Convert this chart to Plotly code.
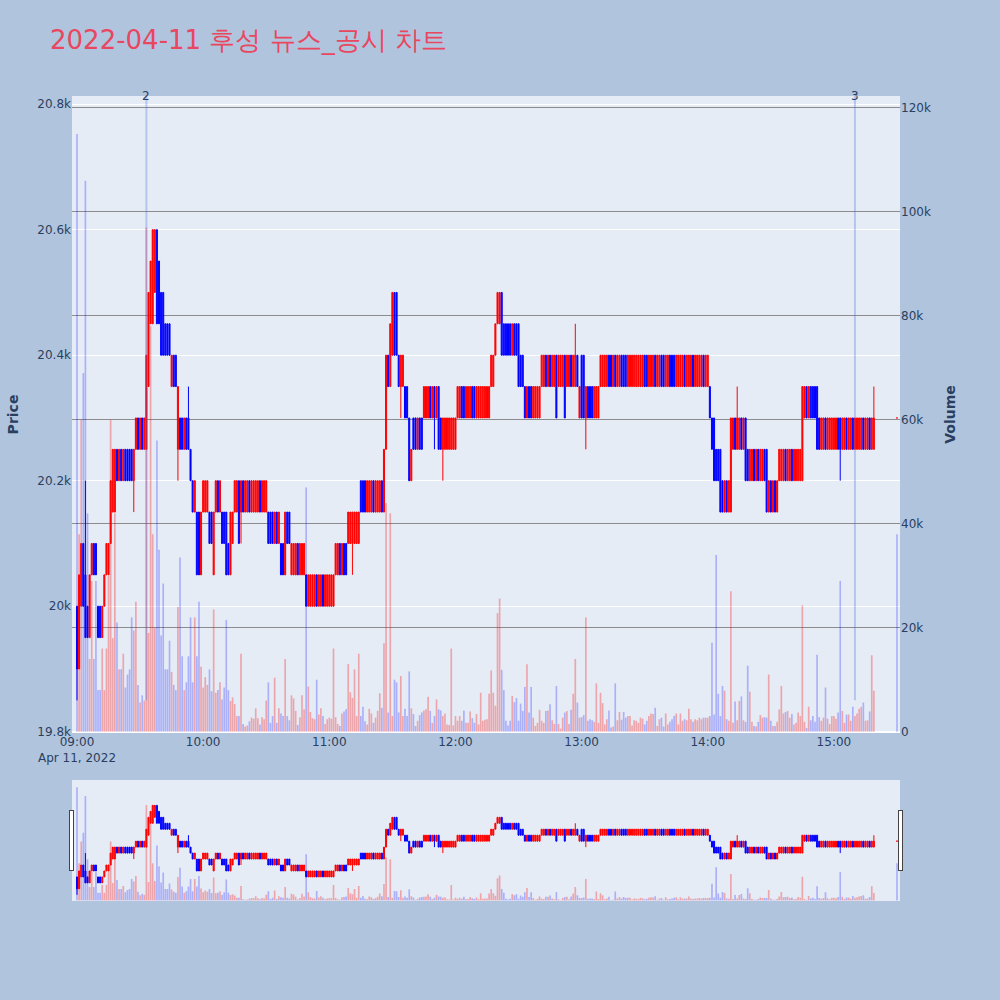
import pandas as pd
import plotly.graph_objects as go
from plotly.subplots import make_subplots

chart_title = "2022-04-11 후성 뉴스_공시 차트"

# minute timestamps: 09:00-15:19 continuous session, then 15:30 closing auction
times = list(pd.date_range("2022-04-11 09:00", "2022-04-11 15:19", freq="min")) + [pd.Timestamp("2022-04-11 15:30")]

opens = [
    20000, 19900, 20000, 20100, 20050, 20000, 19950, 20050, 20100, 20100,
    20000, 20000, 19950, 20000, 20050, 20050, 20100, 20150, 20150, 20250,
    20200, 20250, 20200, 20250, 20250, 20250, 20250, 20200, 20250, 20300,
    20250, 20300, 20250, 20250, 20350, 20450, 20450, 20500, 20600, 20550,
    20500, 20500, 20450, 20450, 20450, 20350, 20400, 20400, 20250, 20300,
    20300, 20250, 20300, 20300, 20250, 20200, 20150, 20150, 20150, 20050,
    20150, 20150, 20150, 20150, 20150, 20050, 20150, 20200, 20150, 20150,
    20150, 20150, 20100, 20050, 20100, 20150, 20150, 20200, 20150, 20200,
    20150, 20150, 20200, 20150, 20150, 20150, 20150, 20200, 20150, 20150,
    20150, 20150, 20150, 20150, 20100, 20150, 20100, 20100, 20100, 20050,
    20150, 20150, 20050, 20050, 20050, 20100, 20050, 20050, 20050, 20050,
    20000, 20000, 20000, 20000, 20050, 20000, 20000, 20050, 20000, 20000,
    20000, 20000, 20000, 20050, 20050, 20100, 20050, 20100, 20100, 20100,
    20100, 20100, 20100, 20100, 20100, 20200, 20200, 20200, 20150, 20150,
    20150, 20200, 20150, 20150, 20150, 20200, 20150, 20250, 20400, 20350,
    20400, 20500, 20500, 20400, 20350, 20350, 20350, 20350, 20300, 20200,
    20300, 20300, 20250, 20300, 20300, 20300, 20300, 20300, 20350, 20300,
    20350, 20300, 20350, 20300, 20250, 20250, 20250, 20250, 20250, 20250,
    20250, 20300, 20300, 20350, 20350, 20300, 20300, 20300, 20350, 20350,
    20300, 20300, 20300, 20300, 20300, 20300, 20300, 20350, 20350, 20400,
    20450, 20450, 20500, 20450, 20450, 20450, 20450, 20400, 20450, 20450,
    20450, 20400, 20400, 20350, 20300, 20350, 20350, 20300, 20300, 20300,
    20300, 20350, 20350, 20400, 20350, 20400, 20350, 20350, 20400, 20350,
    20350, 20350, 20400, 20350, 20350, 20400, 20350, 20350, 20400, 20300,
    20400, 20400, 20300, 20350, 20350, 20350, 20300, 20300, 20300, 20350,
    20350, 20350, 20350, 20400, 20400, 20350, 20400, 20350, 20350, 20400,
    20400, 20400, 20350, 20350, 20350, 20350, 20350, 20350, 20350, 20350,
    20400, 20400, 20350, 20350, 20350, 20400, 20350, 20350, 20400, 20400,
    20350, 20350, 20400, 20400, 20400, 20350, 20350, 20350, 20350, 20400,
    20350, 20350, 20350, 20400, 20350, 20350, 20350, 20350, 20400, 20350,
    20350, 20350, 20300, 20300, 20250, 20250, 20250, 20200, 20150, 20200,
    20150, 20150, 20250, 20300, 20250, 20250, 20300, 20250, 20300, 20250,
    20200, 20200, 20250, 20200, 20250, 20200, 20200, 20250, 20250, 20150,
    20200, 20150, 20200, 20150, 20200, 20200, 20200, 20250, 20200, 20200,
    20250, 20200, 20200, 20200, 20200, 20200, 20300, 20350, 20300, 20350,
    20350, 20350, 20350, 20300, 20250, 20250, 20300, 20250, 20250, 20250,
    20250, 20250, 20300, 20300, 20250, 20250, 20300, 20250, 20250, 20300,
    20250, 20250, 20250, 20250, 20300, 20250, 20250, 20300, 20250, 20250,
    20300,
]

closes = [
    19900, 20050, 20100, 20000, 19950, 19950, 20050, 20100, 20050, 20050,
    19950, 19950, 20000, 20050, 20100, 20100, 20200, 20250, 20250, 20200,
    20250, 20200, 20250, 20200, 20200, 20200, 20200, 20250, 20300, 20250,
    20300, 20250, 20300, 20400, 20500, 20550, 20600, 20600, 20450, 20450,
    20400, 20400, 20400, 20400, 20400, 20400, 20350, 20350, 20350, 20250,
    20250, 20300, 20250, 20250, 20200, 20150, 20200, 20050, 20050, 20150,
    20200, 20200, 20200, 20100, 20100, 20150, 20200, 20150, 20200, 20100,
    20100, 20050, 20050, 20150, 20150, 20200, 20200, 20100, 20200, 20150,
    20200, 20200, 20150, 20200, 20200, 20200, 20200, 20150, 20200, 20200,
    20200, 20100, 20100, 20100, 20150, 20100, 20150, 20050, 20050, 20150,
    20100, 20100, 20100, 20100, 20100, 20050, 20100, 20100, 20100, 20000,
    20050, 20050, 20050, 20050, 20000, 20050, 20050, 20000, 20050, 20050,
    20050, 20050, 20050, 20100, 20100, 20050, 20100, 20050, 20050, 20150,
    20150, 20150, 20150, 20150, 20150, 20150, 20150, 20150, 20200, 20200,
    20200, 20150, 20200, 20200, 20200, 20150, 20250, 20400, 20350, 20450,
    20500, 20400, 20400, 20350, 20400, 20400, 20300, 20300, 20200, 20250,
    20250, 20250, 20300, 20250, 20250, 20350, 20350, 20350, 20300, 20350,
    20300, 20350, 20250, 20250, 20300, 20300, 20300, 20300, 20300, 20300,
    20300, 20350, 20350, 20300, 20300, 20350, 20350, 20350, 20300, 20300,
    20350, 20350, 20350, 20350, 20350, 20350, 20350, 20400, 20400, 20450,
    20500, 20500, 20400, 20400, 20400, 20400, 20400, 20450, 20400, 20400,
    20350, 20350, 20350, 20300, 20350, 20300, 20300, 20350, 20350, 20350,
    20350, 20400, 20400, 20350, 20400, 20350, 20400, 20400, 20300, 20400,
    20400, 20400, 20300, 20400, 20400, 20350, 20400, 20400, 20350, 20350,
    20300, 20300, 20350, 20300, 20300, 20300, 20350, 20350, 20350, 20400,
    20400, 20400, 20400, 20350, 20350, 20400, 20350, 20400, 20400, 20350,
    20350, 20350, 20400, 20400, 20400, 20400, 20400, 20400, 20400, 20400,
    20350, 20350, 20400, 20400, 20400, 20350, 20400, 20400, 20350, 20350,
    20400, 20400, 20350, 20350, 20350, 20400, 20400, 20400, 20400, 20350,
    20400, 20400, 20400, 20350, 20400, 20400, 20400, 20400, 20350, 20400,
    20400, 20300, 20250, 20200, 20200, 20200, 20150, 20150, 20200, 20150,
    20200, 20300, 20300, 20250, 20300, 20300, 20250, 20300, 20200, 20200,
    20250, 20250, 20200, 20250, 20200, 20250, 20250, 20200, 20150, 20200,
    20150, 20200, 20150, 20200, 20250, 20250, 20250, 20200, 20250, 20250,
    20200, 20250, 20250, 20250, 20250, 20350, 20350, 20300, 20350, 20300,
    20300, 20300, 20250, 20250, 20300, 20300, 20250, 20300, 20300, 20300,
    20300, 20300, 20250, 20250, 20300, 20300, 20250, 20300, 20300, 20250,
    20300, 20300, 20300, 20300, 20250, 20300, 20300, 20250, 20300, 20300,
    20300,
]

# wicks beyond the open/close body, keyed by minute index
wick_highs = {4: 20200, 53: 20350, 237: 20450, 314: 20350, 379: 20350}
wick_lows = {0: 19850, 27: 20150, 48: 20200, 78: 20100, 131: 20050,
             154: 20300, 170: 20250, 174: 20200, 242: 20250, 363: 20200}

volumes = [
    115000, 38000, 60000, 69000, 106000, 42000, 14000, 29000, 14000, 29000,
    8000, 8000, 16000, 8000, 16000, 30000, 60000, 18000, 42000, 21000,
    12000, 12000, 15000, 8500, 11000, 12000, 22000, 19500, 25000, 9000,
    5600, 7000, 6000, 97000, 19000, 78000, 38000, 20000, 56000, 35000,
    18500, 28500, 12000, 12000, 17500, 11500, 9000, 8000, 24000, 33500,
    14500, 8000, 9500, 14500, 22000, 9500, 22000, 14500, 25000, 12500,
    8500, 10500, 9000, 12000, 7800, 23500, 7500, 8000, 9500, 6200,
    8500, 21500, 8000, 5900, 6600, 5300, 3000, 3000, 15000, 1500,
    1000, 1200, 2000, 2700, 2500, 4500, 2600, 1400, 2800, 2400,
    6000, 9500, 1700, 3000, 10400, 1700, 4500, 3500, 3000, 14000,
    3000, 2200, 7000, 6400, 4000, 1300, 2800, 7000, 4300, 47000,
    8700, 3800, 2600, 2400, 10000, 3300, 4500, 3000, 1500, 2400,
    2700, 2500, 16000, 2800, 1500, 1100, 3500, 3900, 4300, 13000,
    7600, 6500, 12000, 3000, 15000, 3000, 4800, 2000, 1400, 4400,
    3500, 1700, 2700, 4000, 7400, 4600, 17000, 44000, 3700, 42000,
    3000, 10000, 9500, 3700, 10700, 3000, 4400, 3000, 11600, 4500,
    3400, 1100, 2100, 3200, 3700, 4100, 4300, 6700, 4000, 1700,
    3000, 6200, 4300, 4100, 3000, 3500, 1400, 1300, 16000, 1200,
    3000, 2100, 3000, 2100, 4100, 1700, 1700, 3900, 2600, 1700,
    3400, 1400, 7500, 2100, 2300, 2400, 7300, 11800, 7500, 5000,
    22800, 25600, 11900, 8000, 2100, 1200, 2100, 6900, 5700, 6500,
    2100, 5400, 4000, 8600, 13000, 3700, 8600, 2700, 1100, 1700,
    4200, 2100, 1700, 4000, 4100, 5300, 2200, 1500, 8800, 1500,
    600, 2700, 3700, 4000, 1500, 4200, 7300, 14000, 5600, 2700,
    2800, 3200, 22000, 2100, 2400, 2200, 1900, 9300, 1700, 7500,
    5500, 1400, 2400, 4100, 800, 1000, 9300, 2200, 3800, 2300,
    3800, 2700, 3000, 3000, 1200, 2200, 2100, 1700, 2700, 2500,
    1400, 2100, 3000, 3500, 3400, 4600, 1100, 2400, 2700, 1000,
    3500, 1400, 1900, 2400, 3000, 3500, 1400, 3500, 2100, 2400,
    2200, 4400, 2400, 1900, 2400, 2200, 2700, 2400, 2700, 2700,
    2700, 3000, 17100, 3300, 34000, 7300, 3000, 8800, 7900, 2400,
    2100, 27000, 1700, 5800, 2200, 5900, 6800, 2200, 1900, 12700,
    7700, 1900, 1100, 1000, 1900, 3200, 2700, 2800, 2700, 11000,
    2100, 1100, 1100, 1900, 4300, 8800, 3500, 3800, 4000, 2700,
    3400, 1400, 1700, 3700, 3000, 24300, 1900, 700, 4800, 2200,
    3000, 1900, 14800, 2800, 2100, 2700, 8500, 2500, 1500, 3000,
    3000, 2500, 3700, 29000, 4000, 1700, 3300, 3300, 2100, 4800,
    3000, 3500, 4400, 4800, 5600, 2100, 2200, 3900, 14700, 7900,
    38000,
]

news_times = ["2022-04-11 09:33", "2022-04-11 15:10"]
news_labels = ["2", "3"]

assert len(times) == len(opens) == len(closes) == len(volumes), (len(times), len(opens), len(closes), len(volumes))

highs = [wick_highs.get(i, max(o, c)) for i, (o, c) in enumerate(zip(opens, closes))]
lows = [wick_lows.get(i, min(o, c)) for i, (o, c) in enumerate(zip(opens, closes))]
vol_colors = ["rgba(255,0,0,0.3)" if c > o else "rgba(0,0,255,0.25)" for o, c in zip(opens, closes)]

price_range = [19798, 20813]
x_range = ["2022-04-11 08:57:37", "2022-04-11 15:31:26"]

fig = make_subplots(specs=[[{"secondary_y": True}]])
fig.add_trace(go.Candlestick(
    x=times, open=opens, high=highs, low=lows, close=closes,
    increasing=dict(line=dict(color="red", width=1), fillcolor="red"),
    decreasing=dict(line=dict(color="blue", width=1), fillcolor="blue"),
    name="Price", showlegend=False,
), secondary_y=False)
fig.add_trace(go.Bar(
    x=times, y=volumes, marker=dict(color=vol_colors, line=dict(width=0)),
    name="Volume", showlegend=False,
), secondary_y=True)

for t, lab in zip(news_times, news_labels):
    fig.add_shape(type="line", xref="x", yref="y", x0=t, x1=t,
                  y0=min(lows), y1=price_range[1],
                  line=dict(color="rgba(65,105,225,0.3)", width=2))
    fig.add_annotation(x=t, xref="x", y=1, yref="paper", text=lab,
                       showarrow=False, yanchor="middle",
                       font=dict(size=12, color="#2a3f5f"))

fig.update_layout(
    template="plotly",
    width=1000, height=1000,
    font=dict(family="DejaVu Sans", size=12, color="#2a3f5f"),
    title=dict(text=chart_title, x=0.05, xanchor="left", y=0.96, yanchor="middle",
               font=dict(size=26, color="#E8475F")),
    paper_bgcolor="#B0C4DE",
    plot_bgcolor="#E5ECF6",
    margin=dict(l=72, r=100, t=96, b=100),
    showlegend=False,
    bargap=0.2,
)
fig.update_xaxes(type="date", range=x_range, showgrid=False, domain=[0, 1],
                 rangeslider=dict(visible=True, bgcolor="#E5ECF6", thickness=0.15,
                                  range=x_range))
fig.update_yaxes(title_text="<b>Price</b>", range=price_range, gridcolor="white",
                 automargin=False, secondary_y=False)
fig.update_yaxes(title_text="<b>Volume</b>", range=[-250, 122300], gridcolor="#8c8c8c",
                 gridwidth=1, showgrid=True, automargin=False, secondary_y=True)

fig.write_html("out.html", config={"displayModeBar": False},
               post_script="document.body.style.margin='0';document.body.style.overflow='hidden';")
